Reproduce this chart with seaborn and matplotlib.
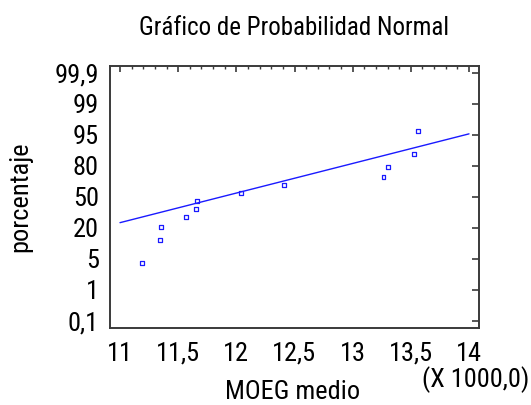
import numpy as np
import matplotlib
matplotlib.use("Agg")
import matplotlib.pyplot as plt
from matplotlib import font_manager
from matplotlib.font_manager import FontProperties
from matplotlib.ticker import FixedLocator, MultipleLocator
from statistics import NormalDist
import seaborn as sns

# MOEG medio values (sorted) and their cumulative percentages
moeg = [11190, 11340, 11355, 11570, 11650, 11660, 12040, 12410, 13265, 13300, 13530, 13560]
pct = [4.2, 12.5, 20.8, 29.2, 37.5, 45.8, 54.2, 62.5, 70.8, 79.2, 87.5, 95.8]

# fitted normal reference line (end points)
line_x = [11000, 14000]
line_pct = [24.2, 95.2]

# axis ticks
prob_ticks = [0.1, 1, 5, 20, 50, 80, 95, 99, 99.9]
prob_labels = ["0,1", "1", "5", "20", "50", "80", "95", "99", "99,9"]
x_ticks = [11000, 11500, 12000, 12500, 13000, 13500, 14000]
x_labels = ["11", "11,5", "12", "12,5", "13", "13,5", "14"]

sns.set_style("white")
plt.rcParams["font.family"] = ["Liberation Sans", "DejaVu Sans"]
plt.rcParams["text.color"] = "black"
plt.rcParams["axes.labelcolor"] = "black"


def pick_narrow_font():
    """Prefer a condensed sans-serif face (regular weight) when one is installed."""
    cands = []
    for f in font_manager.fontManager.ttflist:
        key = (f.fname + " " + f.name).lower()
        if ("narrow" in key or "condensed" in key) and "mono" not in key and "serif" not in key.replace("sans", ""):
            if f.weight in (400, "normal", "regular") and f.style == "normal":
                rank = 0 if "liberation" in key else (1 if "roboto" in key else 2)
                cands.append((rank, f.fname))
    if cands:
        cands.sort()
        return cands[0][1]
    return None


narrow = pick_narrow_font()
FS = 19 if narrow else 16.5
FS_TITLE = 18 if narrow else 16


def font(size):
    if narrow:
        return FontProperties(fname=narrow, size=size)
    return FontProperties(family="Liberation Sans", size=size)


fp = font(FS)

# probability scale: tick labels evenly spaced, normal quantiles interpolated between them
nd = NormalDist()
z_t = [nd.inv_cdf(p / 100) for p in prob_ticks]
z_anchor = np.array([z_t[0] - 0.76] + z_t + [z_t[-1] + 0.76])
i_anchor = np.arange(-1, len(prob_ticks) + 1, dtype=float)
_inv = np.vectorize(lambda q: nd.inv_cdf(q), otypes=[float])
_cdf = np.vectorize(lambda z: nd.cdf(z), otypes=[float])


def forward(p):
    p = np.clip(np.asarray(p, dtype=float), 1e-9, 100 - 1e-9)
    return np.interp(_inv(p / 100), z_anchor, i_anchor)


def inverse(i):
    z = np.interp(np.asarray(i, dtype=float), i_anchor, z_anchor)
    return _cdf(z) * 100


fig = plt.figure(figsize=(5.31, 4.05), dpi=100)
ax = fig.add_axes([110 / 531, 77 / 405, 369 / 531, 262 / 405])
ax.set_yscale("function", functions=(forward, inverse))

blue = "#1a1aff"
sns.lineplot(x=line_x, y=line_pct, ax=ax, color=blue, linewidth=1.0)
sns.scatterplot(x=moeg, y=pct, ax=ax, marker="s", s=8, facecolor="none",
                edgecolor=blue, linewidth=0.9)

ax.set_xlim(10914, 14086)
ax.set_ylim(inverse(-0.225), inverse(8.215))

ax.yaxis.set_major_locator(FixedLocator(prob_ticks))
ax.yaxis.set_minor_locator(FixedLocator([]))
ax.set_yticklabels(prob_labels, fontproperties=fp)
ax.xaxis.set_major_locator(FixedLocator(x_ticks))
ax.xaxis.set_minor_locator(MultipleLocator(100))
ax.set_xticklabels(x_labels, fontproperties=fp)

for s in ax.spines.values():
    s.set_color("#3a3a3a")
    s.set_linewidth(1.4)
ax.tick_params(which="both", direction="in", top=True, right=True,
               color="#3a3a3a", labelcolor="black")
ax.tick_params(axis="y", which="major", length=5, width=1.2, pad=8)
ax.tick_params(axis="x", which="major", length=4, width=1.2, pad=10)
ax.tick_params(axis="x", which="minor", length=2, width=1.0)

ax.set_title("Gráfico de Probabilidad Normal", fontproperties=font(FS_TITLE), pad=22, color="black")
ax.set_xlabel("MOEG medio", fontproperties=fp)
ax.xaxis.label.set_va("baseline")
ax.xaxis.set_label_coords(0.496, (328 - 399) / 262)
ax.set_ylabel("porcentaje", fontproperties=fp)
ax.yaxis.label.set_va("center")
ax.yaxis.set_label_coords((20 - 110) / 369, 0.5)
fig.text(529 / 531, (405 - 387) / 405, "(X 1000,0)", fontproperties=fp,
         ha="right", va="baseline", color="black")

fig.savefig("out.png", dpi=100)
